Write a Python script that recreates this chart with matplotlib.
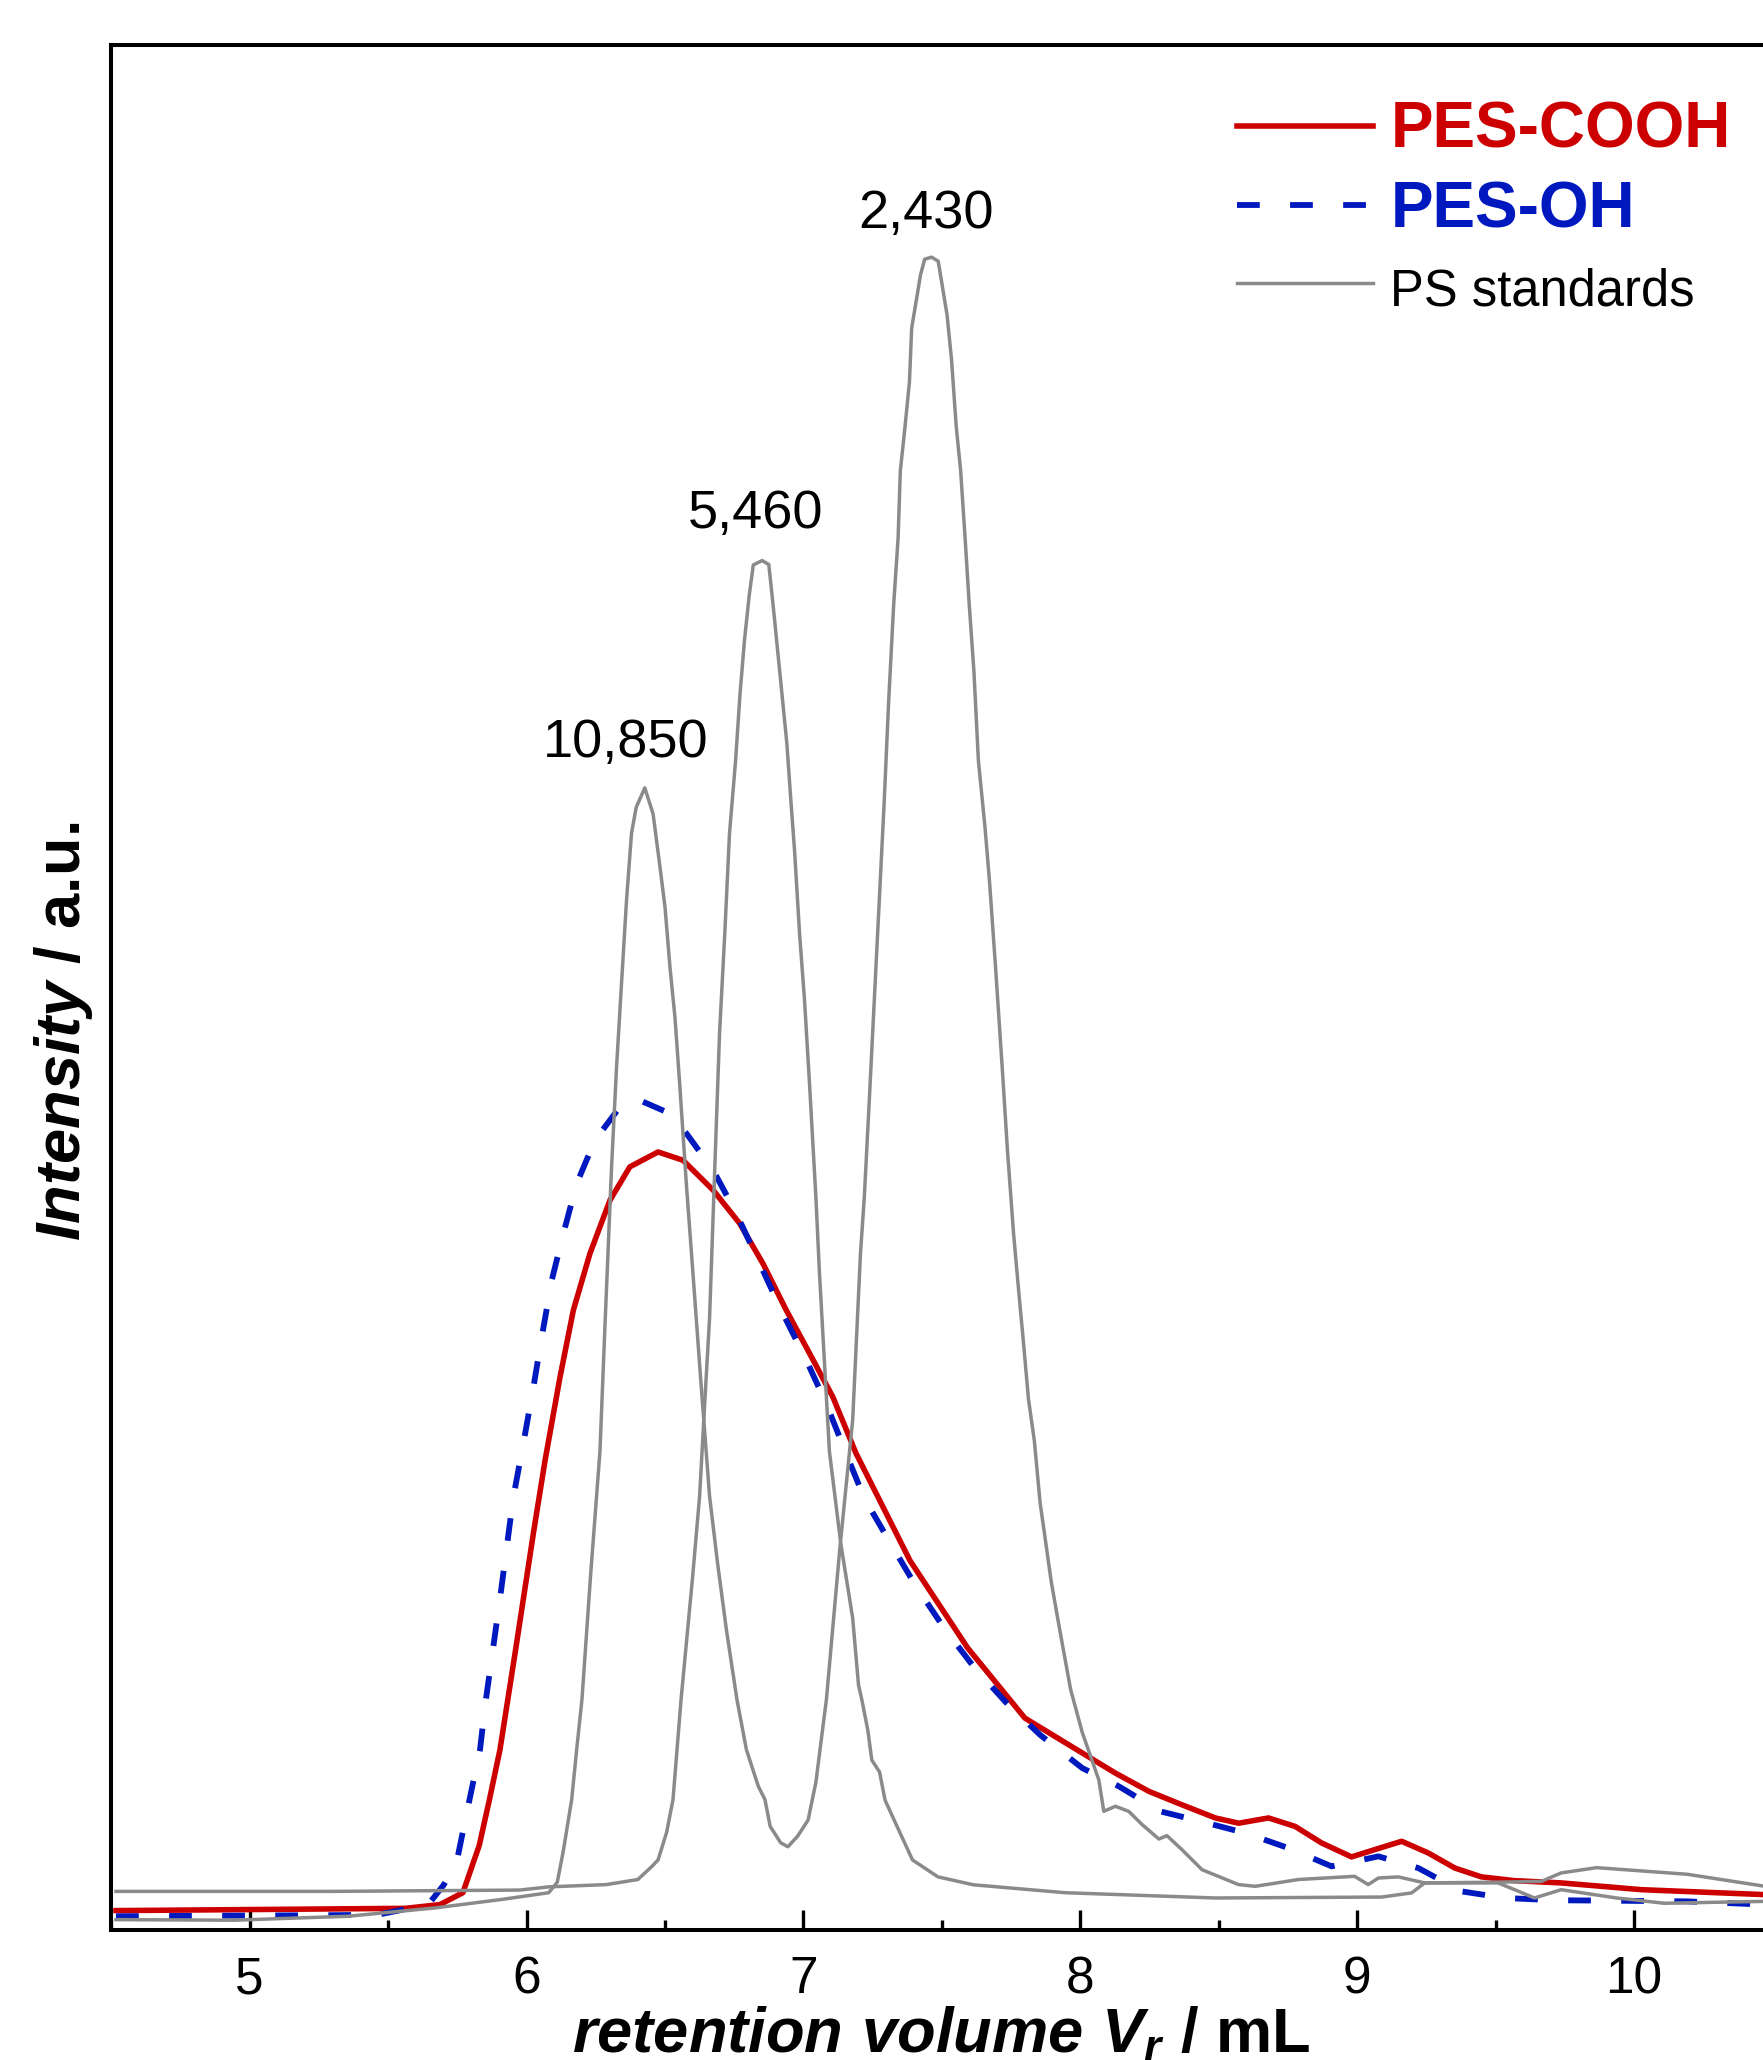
import numpy as np
import matplotlib
matplotlib.use('Agg')
import matplotlib.pyplot as plt
from matplotlib.ticker import MultipleLocator, NullLocator

plt.rcParams['font.family'] = ['Liberation Sans', 'DejaVu Sans']
plt.rcParams['mathtext.fontset'] = 'custom'
plt.rcParams['mathtext.rm'] = 'Liberation Sans:bold'
plt.rcParams['mathtext.it'] = 'Liberation Sans:italic:bold'
plt.rcParams['mathtext.bf'] = 'Liberation Sans:bold'

# ---------------- data (retention volume in mL, intensity in a.u. 0-100) ----------------
cooh_x = [4.517, 5.563, 5.687, 5.770, 5.829, 5.866, 5.904, 5.961, 6.025, 6.067, 6.121, 6.169,
          6.229, 6.301, 6.373, 6.475, 6.565, 6.674, 6.770, 6.854, 6.938, 7.022, 7.106, 7.190,
          7.385, 7.593, 7.800, 8.007, 8.127, 8.248, 8.367, 8.488, 8.572, 8.680, 8.776, 8.872,
          8.980, 9.064, 9.161, 9.257, 9.353, 9.449, 9.569, 9.737, 10.028, 10.469]
cooh_y = [0.93, 1.05, 1.25, 1.88, 4.39, 6.83, 9.48, 14.84, 21.0, 24.85, 29.27, 32.81,
          35.82, 38.64, 40.42, 41.21, 40.77, 39.18, 37.41, 35.28, 32.81, 30.52, 28.21, 25.21,
          19.51, 14.88, 11.15, 9.30, 8.23, 7.26, 6.55, 5.85, 5.57, 5.85, 5.40, 4.52,
          3.78, 4.17, 4.61, 3.99, 3.19, 2.72, 2.52, 2.40, 2.04, 1.78]

oh_x = [4.517, 5.459, 5.645, 5.701, 5.748, 5.786, 5.832, 5.850, 5.904, 5.952, 5.989, 6.025,
        6.055, 6.091, 6.133, 6.181, 6.247, 6.337, 6.403, 6.506, 6.578, 6.674, 6.758, 6.842,
        6.926, 7.010, 7.082, 7.154, 7.220, 7.315, 7.405, 7.510, 7.614, 7.730, 7.855, 8.007,
        8.139, 8.289, 8.434, 8.596, 8.752, 8.908, 9.077, 9.221, 9.377, 9.533, 9.713, 9.898,
        10.192, 10.469]
oh_y = [0.63, 0.70, 1.25, 2.30, 3.55, 6.27, 9.48, 11.8, 17.49, 22.86, 25.78, 28.74,
        31.39, 34.40, 36.88, 39.53, 41.83, 43.60, 43.99, 43.33, 42.18, 40.24, 37.94, 35.28,
        32.63, 30.17, 27.86, 25.21, 22.82, 20.42, 18.19, 15.89, 13.90, 12.01, 10.26, 8.50,
        7.53, 6.20, 5.67, 5.05, 4.25, 3.28, 3.81, 3.19, 1.95, 1.60, 1.48, 1.46,
        1.42, 1.25]

# PS standard run with 10,850 and 2,430
ps1_x = [4.517, 4.943, 5.355, 5.668, 5.914, 6.080, 6.111, 6.132, 6.163, 6.181, 6.200, 6.231,
         6.265, 6.283, 6.307, 6.325, 6.343, 6.361, 6.379, 6.396, 6.427, 6.457, 6.482, 6.500,
         6.518, 6.536, 6.553, 6.577, 6.601, 6.629, 6.661, 6.690, 6.722, 6.760, 6.794, 6.837,
         6.861, 6.880, 6.918, 6.944, 6.979, 7.017, 7.045, 7.060, 7.083, 7.131, 7.178, 7.192,
         7.206, 7.220, 7.238, 7.256, 7.274, 7.292, 7.308, 7.326, 7.342, 7.350, 7.367, 7.383,
         7.391, 7.407, 7.423, 7.438, 7.463, 7.487, 7.519, 7.535, 7.552, 7.568, 7.584, 7.599,
         7.616, 7.632, 7.656, 7.672, 7.694, 7.718, 7.737, 7.759, 7.779, 7.793, 7.813, 7.834,
         7.855, 7.876, 7.895, 7.924, 7.965, 8.007, 8.067, 8.085, 8.127, 8.175, 8.224, 8.284,
         8.313, 8.367, 8.440, 8.572, 8.632, 8.788, 8.991, 9.040, 9.077, 9.149, 9.244, 9.509,
         9.569, 9.641, 9.737, 9.938, 10.109, 10.469]
ps1_y = [0.45, 0.42, 0.63, 1.07, 1.53, 1.88, 2.44, 4.04, 6.83, 9.48, 12.13, 18.68,
         25.30, 31.92, 40.42, 45.71, 50.17, 54.56, 58.12, 59.51, 60.54, 59.16, 56.33, 54.22,
         51.02, 48.36, 44.84, 39.54, 34.77, 29.13, 22.93, 19.37, 15.82, 12.13, 9.48, 7.53,
         6.83, 5.40, 4.53, 4.32, 4.88, 5.74, 7.74, 9.48, 12.13, 20.07, 26.99, 31.39,
         35.79, 38.82, 43.97, 49.27, 54.56, 59.86, 65.17, 70.26, 73.81, 77.37, 79.72, 82.09,
         84.95, 86.36, 87.78, 88.61, 88.72, 88.50, 85.64, 83.28, 79.72, 77.37, 73.81, 70.26,
         66.70, 61.99, 58.43, 55.61, 51.02, 45.71, 41.30, 36.89, 33.60, 31.39, 28.08, 25.89,
         22.58, 20.40, 18.41, 15.99, 12.68, 10.40, 7.87, 6.20, 6.47, 6.20, 5.49, 4.73,
         4.91, 4.17, 3.10, 2.31, 2.22, 2.58, 2.75, 2.31, 2.66, 2.72, 2.40, 2.40,
         2.04, 1.60, 2.04, 1.60, 1.32, 1.42]

# PS standard run with 5,460
ps2_x = [4.517, 5.298, 5.975, 6.080, 6.288, 6.402, 6.453, 6.475, 6.506, 6.529, 6.558, 6.600,
         6.625, 6.643, 6.661, 6.680, 6.697, 6.716, 6.733, 6.755, 6.771, 6.787, 6.804, 6.819,
         6.851, 6.875, 6.892, 6.908, 6.924, 6.940, 6.956, 6.968, 6.986, 7.004, 7.022, 7.045,
         7.058, 7.094, 7.135, 7.178, 7.199, 7.211, 7.233, 7.247, 7.275, 7.295, 7.322, 7.394,
         7.486, 7.614, 7.945, 8.488, 9.089, 9.197, 9.244, 9.509, 9.665, 9.737, 9.865, 10.192,
         10.469]
ps2_y = [1.95, 1.95, 2.02, 2.19, 2.31, 2.58, 3.28, 3.62, 5.09, 6.83, 12.13, 18.68,
         22.93, 27.74, 32.40, 40.42, 47.49, 52.82, 58.12, 61.99, 65.53, 68.36, 70.73, 72.38,
         72.61, 72.40, 70.03, 67.67, 65.30, 62.93, 59.60, 57.21, 52.82, 49.27, 44.84, 38.82,
         34.77, 25.30, 20.42, 16.45, 12.91, 12.13, 10.48, 8.92, 8.29, 6.79, 5.92, 3.62,
         2.72, 2.30, 1.88, 1.60, 1.65, 1.87, 2.40, 2.44, 2.48, 2.93, 3.21, 2.86,
         2.23]

peak_labels = ['10,850', '5,460', '2,430']
peak_label_x = [6.359, 6.828, 7.441]
peak_label_y = [62.9, 75.1, 91.0]

x_ticks = [5, 6, 7, 8, 9, 10]
series_names = ['PES-COOH', 'PES-OH', 'PS standards']

RED = '#CC0000'
BLUE = '#0019BF'
GRAY = '#8A8A8A'

# ---------------- figure ----------------
W, H = 1763, 2060
fig = plt.figure(figsize=(W / 100, H / 100), dpi=100)
ax = fig.add_axes([111.3 / W, 1 - 1930 / H, (1910.8 - 111.3) / W, (1930 - 44.7) / H])

ax.plot(cooh_x, cooh_y, color=RED, lw=4.0, label=series_names[0], zorder=3,
        solid_joinstyle='round')
ax.plot(oh_x, oh_y, color=BLUE, lw=4.2, linestyle=(0, (3.9, 5.2)), label=series_names[1],
        zorder=3)
ax.plot(ps1_x, ps1_y, color=GRAY, lw=2.5, label=series_names[2], zorder=4)
ax.plot(ps2_x, ps2_y, color=GRAY, lw=2.5, zorder=4)

for txt, px, py in zip(peak_labels, peak_label_x, peak_label_y):
    ax.text(px, py, txt, ha='center', va='center', fontsize=39, color='black')

ax.set_xlim(4.5, 11.0)
ax.set_ylim(-0.1, 100)
ax.set_xticks(x_ticks)
ax.xaxis.set_minor_locator(MultipleLocator(0.5))
ax.yaxis.set_major_locator(NullLocator())
ax.tick_params(axis='x', which='major', direction='in', length=14.5, width=2.4,
               labelsize=37, pad=18, top=False)
ax.tick_params(axis='x', which='minor', direction='in', length=7.5, width=2.4, top=False)
for s in ax.spines.values():
    s.set_linewidth(2.9)

fig.text(0.534, 0.004, r'$\mathit{retention\ volume\ V_r}$ / mL', ha='center', va='baseline',
         fontsize=45.5, fontweight='bold')
fig.text(0.036, 1 - 1031 / H, r'$\mathit{Intensity}$ / a.u.', rotation=90, ha='center',
         va='center', fontsize=45.5, fontweight='bold')

leg = ax.legend(loc='upper left', bbox_to_anchor=(1237 / W, 1 - 101 / H),
                bbox_transform=fig.transFigure, frameon=False, fontsize=46,
                handlelength=2.13, handletextpad=0.27, labelspacing=0.31,
                borderpad=0, borderaxespad=0)
texts = leg.get_texts()
texts[0].set_color(RED); texts[0].set_fontweight('bold')
texts[1].set_color(BLUE); texts[1].set_fontweight('bold')
texts[2].set_color('black'); texts[2].set_fontsize(36.5)

fig.savefig('out.png', dpi=100)
